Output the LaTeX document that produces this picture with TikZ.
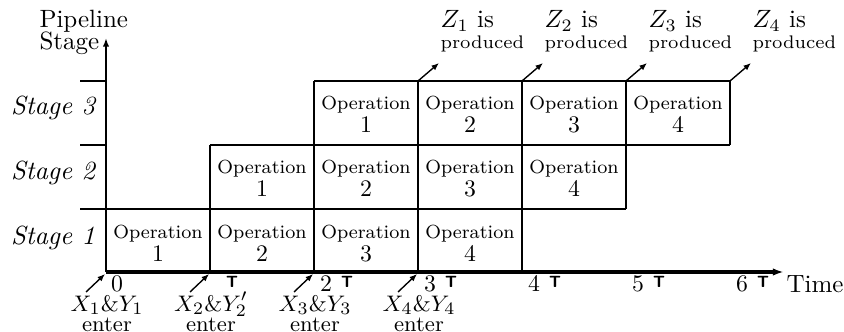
\documentclass[tikz,border=0pt]{standalone}
\usetikzlibrary{arrows.meta}
\begin{document}
\begin{tikzpicture}[x=0.4pt,y=-0.4pt,
  grid/.style={line width=0.7pt},
  optext/.style={anchor=base,inner sep=0pt,font=\fontsize{7.6}{8}\selectfont},
  opnum/.style={anchor=base,inner sep=0pt,font=\fontsize{9.5}{10}\selectfont},
  stagelbl/.style={anchor=base,inner sep=0pt,font=\fontsize{10.5}{12}\itshape},
  ticknum/.style={anchor=base,inner sep=0pt,font=\fontsize{9.5}{10}\selectfont},
  tickT/.style={anchor=base,inner sep=0pt,font=\fontsize{6.5}{7}\sffamily\bfseries},
  plain/.style={anchor=base west,inner sep=0pt},
  small/.style={anchor=base west,inner sep=0pt,font=\fontsize{7.3}{8}\selectfont},
  enterlbl/.style={anchor=base,inner sep=0pt,font=\fontsize{9.5}{10}\selectfont},
  enterword/.style={anchor=base,inner sep=0pt,font=\fontsize{8.8}{10}\selectfont},
  smallarrow/.style={-{Latex[length=3pt,width=2.4pt]},line width=0.55pt},
  axis/.style={line width=0.8pt}]
\useasboundingbox (0,0) rectangle (844,332);

% column corners on the time axis
\foreach \k in {0,...,6}{
  \coordinate (c\k) at ({106+104*\k},272);
}

% axes
\coordinate (yend) at (106,38);
\coordinate (xend) at (784,272);
\draw[axis,-{Latex[length=3.5pt,width=2.6pt]}] (c0) -- (yend);
\draw[line width=1.4pt,-{Latex[length=4.5pt,width=3pt]}] (c0) -- (xend);

% stage grid
\draw[grid] (80,81) -- (106,81);
\draw[grid] (80,145) -- (106,145);
\draw[grid] (314,81) -- (730,81);
\draw[grid] (210,145) -- (730,145);
\draw[grid] (80,209) -- (626,209);
\draw[grid] (210,145) -- (c1);
\draw[grid] (314,81) -- (c2);
\draw[grid] (418,81) -- (c3);
\draw[grid] (522,81) -- (c4);
\draw[grid] (626,81) -- (626,209);
\draw[grid] (730,81) -- (730,145);

% operation labels: stage / row top / first column
\foreach \s/\rt/\f in {1/209/0, 2/145/1, 3/81/2}{
  \foreach \k in {1,...,4}{
    \pgfmathsetmacro{\cx}{106+104*(\f+\k-1)+52}
    \node[optext] (op\s\k) at (\cx,\rt+29) {Operation};
    \node[opnum] (num\s\k) at (\cx,\rt+52) {\k};
  }
}

% stage names
\node[stagelbl] (st3) at (53,115) {Stage 3};
\node[stagelbl] (st2) at (53,180) {Stage 2};
\node[stagelbl] (st1) at (53,244) {Stage 1};

% axis titles
\node[plain] (ttl1) at (39,28) {Pipeline};
\node[plain] (ttl2) at (39,50) {Stage};
\node[plain] (time) at (786,292) {Time};

% time ticks
\node[ticknum] (n0) at (117,291) {0};
\node[tickT] (T1) at (232,287) {T};
\foreach \k in {2,...,6}{
  \node[ticknum] (n\k) at ({106+104*\k+12},291) {\k};
  \node[tickT] (T\k) at ({106+104*\k+33},287) {T};
}

% operands entering
\foreach \k in {1,...,4}{
  \pgfmathtruncatemacro{\j}{\k-1}
  \coordinate (ein\k) at ({106+104*\j-20},292);
  \coordinate (eto\k) at ({106+104*\j-1},274);
  \draw[smallarrow] (ein\k) -- (eto\k);
}
\node[enterlbl] (xy1) at (107,311) {$X_1\&Y_1$};
\node[enterlbl] (xy2) at (211,311) {$X_2\&Y_2'$};
\node[enterlbl] (xy3) at (315,311) {$X_3\&Y_3$};
\node[enterlbl] (xy4) at (419,311) {$X_4\&Y_4$};
\foreach \k in {1,...,4}{
  \node[enterword] (en\k) at ({106+104*(\k-1)+1},331) {enter};
}

% results leaving
\foreach \k in {1,...,4}{
  \pgfmathsetmacro{\zx}{418+104*(\k-1)}
  \coordinate (zs\k) at (\zx,81);
  \coordinate (ze\k) at (\zx+21,63);
  \draw[smallarrow] (zs\k) -- (ze\k);
  \node[plain] (z\k) at (\zx+22,28) {$Z_\k$ is};
  \node[small] (pr\k) at (\zx+22,49) {produced};
}
\end{tikzpicture}
\end{document}
